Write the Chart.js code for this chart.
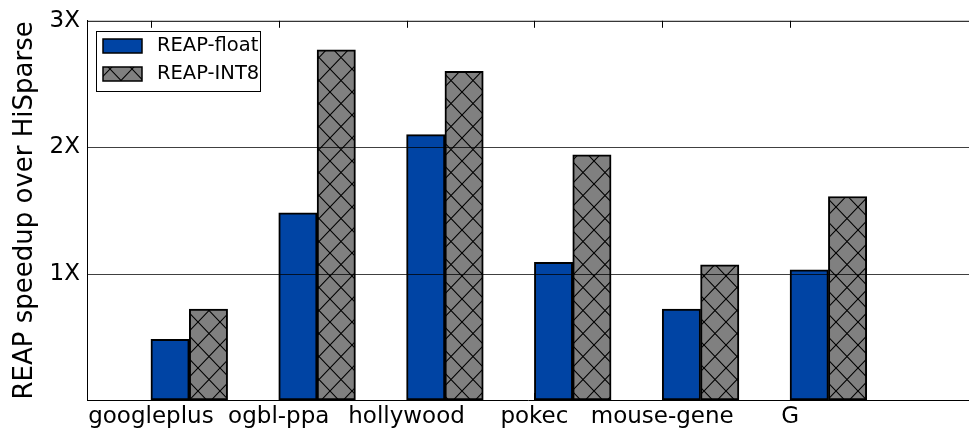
<!DOCTYPE html>
<html>
<head>
<meta charset="utf-8">
<script src="https://cdn.jsdelivr.net/npm/chart.js@4/dist/chart.umd.min.js"></script>
<style>
  html, body { margin: 0; padding: 0; background: #fff; }
  #wrap { width: 969px; height: 432px; }
</style>
</head>
<body>
<div id="wrap"><canvas id="myChart" width="969" height="432"></canvas></div>
<script>
// data
const categories = ['googleplus', 'ogbl-ppa', 'hollywood', 'pokec', 'mouse-gene', 'G'];
const reapFloat = [0.48, 1.48, 2.10, 1.09, 0.72, 1.03];
const reapInt8 = [0.72, 2.77, 2.60, 1.94, 1.07, 1.61];
const yTicks = [0, 1, 2, 3];

const BLUE = '#0044a4';
const GREY = '#808080';

// crosshatch like matplotlib 'x'
function makeHatch() {
    const w = 22, h = 23;
    const c = document.createElement('canvas');
    c.width = w; c.height = h;
    const g = c.getContext('2d');
    g.fillStyle = GREY;
    g.fillRect(0, 0, w, h);
    g.strokeStyle = '#000';
    g.lineWidth = 1.1;
    for (const dx of [-w, 0, w]) {
        g.beginPath();
        g.moveTo(dx, 0); g.lineTo(dx + w, h);
        g.moveTo(dx + w, 0); g.lineTo(dx, h);
        g.stroke();
    }
    return g.createPattern(c, 'repeat');
}
const hatch = makeHatch();

Chart.defaults.font.family = "'DejaVu Sans', sans-serif";
Chart.defaults.color = '#000';

const overlay = {
    id: 'overlay',
    afterDatasetsDraw(chart) {
        const ctx = chart.ctx;
        const { left, right, top, bottom } = chart.chartArea;
        const x = chart.scales.x, y = chart.scales.y;
        ctx.save();
        // grid lines over the bars
        ctx.strokeStyle = 'rgba(0,0,0,0.75)';
        ctx.lineWidth = 1;
        yTicks.slice(1, -1).forEach(v => {
            const py = Math.round(y.getPixelForValue(v)) + 0.5;
            ctx.beginPath(); ctx.moveTo(left, py); ctx.lineTo(right, py); ctx.stroke();
        });
        // top spine and ticks
        ctx.strokeStyle = '#000';
        ctx.beginPath(); ctx.moveTo(left, top + 0.5); ctx.lineTo(right, top + 0.5); ctx.stroke();
        categories.forEach((_, i) => {
            const px = Math.round(x.getPixelForValue(i)) + 0.5;
            ctx.beginPath(); ctx.moveTo(px, top); ctx.lineTo(px, top + 7); ctx.stroke();
            ctx.beginPath(); ctx.moveTo(px, bottom); ctx.lineTo(px, bottom - 7); ctx.stroke();
        });

        // legend inside the axes
        const bx = 96, by = 31, bw = 164, bh = 60;
        ctx.fillStyle = '#fff';
        ctx.fillRect(bx, by, bw, bh);
        ctx.lineWidth = 1;
        ctx.strokeRect(bx + 0.5, by + 0.5, bw, bh);
        ctx.font = "19.5px 'DejaVu Sans'";
        ctx.textBaseline = 'middle';
        chart.data.datasets.forEach((ds, i) => {
            const ry = by + 8 + i * 28;
            ctx.fillStyle = ds.backgroundColor;
            ctx.fillRect(bx + 7, ry, 39, 14);
            ctx.lineWidth = 1.5;
            ctx.strokeStyle = '#000';
            ctx.strokeRect(bx + 7, ry, 39, 14);
            ctx.fillStyle = '#000';
            ctx.fillText(ds.label, bx + 61, ry + 7);
        });
        ctx.restore();
    }
};

new Chart(document.getElementById('myChart').getContext('2d'), {
    type: 'bar',
    data: {
        datasets: [{
            label: 'REAP-float',
            data: reapFloat.map((v, i) => ({ x: i + 0.15, y: v })),
            backgroundColor: BLUE,
        }, {
            label: 'REAP-INT8',
            data: reapInt8.map((v, i) => ({ x: i + 0.45, y: v })),
            backgroundColor: hatch,
        }]
    },
    options: {
        responsive: false,
        animation: false,
        devicePixelRatio: 1,
        layout: { padding: { top: 20, right: 0, left: 0, bottom: 0 } },
        datasets: {
            bar: {
                grouped: false,
                barPercentage: 1,
                categoryPercentage: 1,
                borderColor: '#000',
                borderWidth: 2,
                borderSkipped: false,
            }
        },
        plugins: {
            legend: { display: false },
            tooltip: { enabled: false },
        },
        scales: {
            x: {
                type: 'linear',
                offset: false,
                min: -0.5,
                max: 6.4,
                afterBuildTicks: s => { s.ticks = categories.map((_, i) => ({ value: i })); },
                afterFit: s => { s.height = 32; },
                grid: { display: false, drawTicks: false, offset: false },
                border: { display: true, color: '#000', width: 1 },
                ticks: {
                    padding: 3,
                    maxRotation: 0,
                    autoSkip: false,
                    font: { size: 23 },
                    callback: v => categories[v] ?? '',
                },
            },
            y: {
                min: 0,
                max: 3,
                afterBuildTicks: s => { s.ticks = yTicks.map(v => ({ value: v })); },
                afterFit: s => { s.width = 87; },
                grid: { display: false, drawTicks: false },
                border: { display: true, color: '#000', width: 1 },
                ticks: {
                    padding: 7,
                    font: { size: 23 },
                    callback: v => v ? v + 'X' : '',
                },
                title: {
                    display: true,
                    text: 'REAP speedup over HiSparse',
                    font: { size: 26 },
                    padding: { top: 10, bottom: 0 },
                },
            }
        }
    },
    plugins: [overlay]
});
</script>
</body>
</html>
